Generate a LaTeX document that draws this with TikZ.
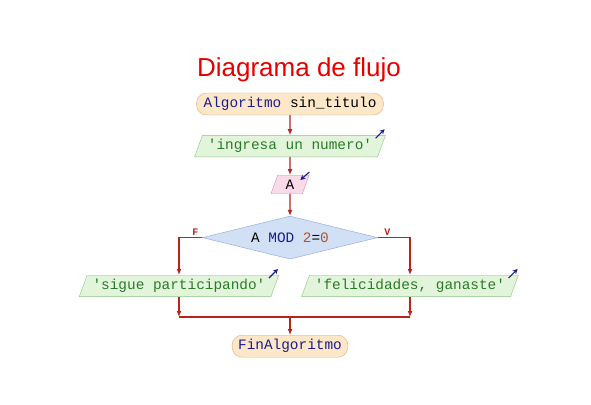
\documentclass[tikz,border=0pt]{standalone}
\usepackage{fontspec}
\usepackage{xcolor}
\usepackage{tikz}
\usetikzlibrary{arrows.meta,positioning,shapes.geometric}
\setmonofont{Liberation Mono}
\newfontfamily\titlefont{Liberation Sans}

\definecolor{flowred}{HTML}{B8241C}
\definecolor{kwblue}{HTML}{1C1C8C}
\definecolor{strgreen}{HTML}{2A7A2A}
\definecolor{numbrown}{HTML}{B0562A}
\definecolor{termfill}{HTML}{FCE8C8}
\definecolor{termdraw}{HTML}{D6AE74}
\definecolor{iofill}{HTML}{E2F5DA}
\definecolor{iodraw}{HTML}{8EC286}
\definecolor{readfill}{HTML}{F8DAE8}
\definecolor{readdraw}{HTML}{D694B4}
\definecolor{decfill}{HTML}{D2E0F6}
\definecolor{decdraw}{HTML}{8AA4D6}

\begin{document}
\begin{tikzpicture}[
    x=1pt, y=-1pt,
    node distance=20pt,
    base/.style={font=\ttfamily\fontsize{14.4}{16}\selectfont},
    terminal/.style={base, draw=termdraw, fill=termfill, rounded corners=10pt,
      minimum height=22pt, inner xsep=7pt, inner ysep=2pt},
    io/.style={base, trapezium, trapezium left angle=70, trapezium right angle=110,
      trapezium stretches body, draw=iodraw, fill=iofill, inner xsep=5.5pt, inner ysep=4pt},
    readbox/.style={io, draw=readdraw, fill=readfill, inner xsep=8pt, inner ysep=4.5pt},
    decision/.style={base, diamond, aspect=4, draw=decdraw, fill=decfill,
      minimum width=175pt, minimum height=43pt, inner sep=0pt},
    flow/.style={-{Latex[length=6pt,width=5pt]}, flowred, line width=1.2pt},
    line/.style={flowred, line width=1.2pt},
    icon/.style={-{Stealth[length=5pt,width=5pt]}, kwblue, line width=1.1pt},
    lbl/.style={font=\ttfamily\bfseries\fontsize{10}{11}\selectfont, text=flowred, inner sep=1.5pt}
  ]
    \useasboundingbox (0,0) rectangle (591,404);
    \node[font=\titlefont\fontsize{26}{30}\selectfont, text=red!90!black] (title) at (299,70) {Diagrama de flujo};
    \node[terminal] (start) at (290,104) {\textcolor{kwblue}{Algoritmo} sin\_titulo};
    \node[io, below=of start] (ask) {\textcolor{strgreen}{'ingresa un numero'}};
    \node[readbox, below=18pt of ask] (read) {A};
    \node[decision, below=22pt of read] (cond) {A \textcolor{kwblue}{MOD} \textcolor{numbrown}{2}=\textcolor{numbrown}{0}};
    \node[io, anchor=north] (lose) at (179,275) {\textcolor{strgreen}{'sigue participando'}};
    \node[io, anchor=north] (win) at (410,275) {\textcolor{strgreen}{'felicidades, ganaste'}};
    \coordinate (join) at (290,317);
    \node[terminal, below=18pt of join, inner xsep=6pt] (finish) {\textcolor{kwblue}{FinAlgoritmo}};

    % little output / input markers
    \draw[icon] ([shift={(-10,3)}]ask.top right corner) -- ++(9,-9);
    \draw[icon] ([shift={(-10,3)}]lose.top right corner) -- ++(9,-9);
    \draw[icon] ([shift={(-10,3)}]win.top right corner) -- ++(9,-9);
    \draw[icon] ([shift={(0,-3)}]read.top right corner) -- ++(-9,8);

    \draw[flow] (start) -- (ask);
    \draw[flow] (ask) -- (read);
    \draw[flow] (read) -- (cond);
    \draw[flow] (cond.west) -| node[lbl, above, pos=0.15] {F} (lose.north);
    \draw[flow] (cond.east) -| node[lbl, above, pos=0.15] {V} (win.north);
    \draw[flow] (lose.south) -- (lose.south |- join);
    \draw[flow] (win.south) -- (win.south |- join);
    \draw[line] (lose.south |- join) -- (win.south |- join);
    \draw[flow] (join) -- (finish);
  \end{tikzpicture}
\end{document}
